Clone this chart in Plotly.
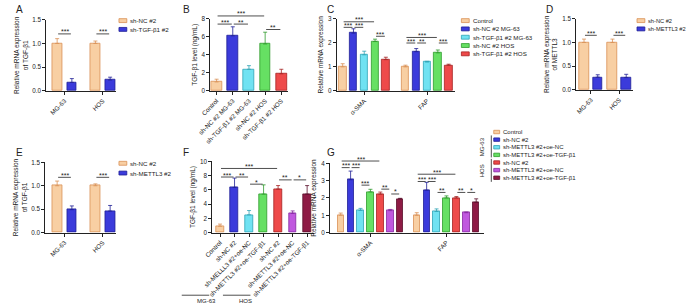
import plotly.graph_objects as go

W, H = 689, 307
FONT = "Liberation Sans, Arial, sans-serif"
TXT = "#222222"

# ---------------- data ----------------
# Panel A
A_groups = ["MG-63", "HOS"]
A_series = ["sh-NC #2", "sh-TGF-β1 #2"]
A_vals = [[1.00, 1.00], [0.18, 0.23]]          # per series, per group
A_err = [[0.10, 0.05], [0.08, 0.06]]

# Panel B
B_labels = ["Control", "sh-NC #2 MG-63", "sh-TGF-β1 #2 MG-63", "sh-NC #2 HOS", "sh-TGF-β1 #2 HOS"]
B_vals = [1.0, 6.1, 2.4, 5.2, 1.9]
B_err = [0.3, 1.0, 0.4, 1.3, 0.5]

# Panel C
C_groups = ["α-SMA", "FAP"]
C_series = ["Control", "sh-NC #2 MG-63", "sh-TGF-β1 #2 MG-63", "sh-NC #2 HOS", "sh-TGF-β1 #2 HOS"]
C_vals = [[1.0, 1.0], [2.40, 1.63], [1.50, 1.20], [2.05, 1.58], [1.30, 1.07]]
C_err = [[0.13, 0.07], [0.18, 0.13], [0.15, 0.03], [0.10, 0.12], [0.10, 0.04]]

# Panel D
D_groups = ["MG-63", "HOS"]
D_series = ["sh-NC #2", "sh-METTL3 #2"]
D_vals = [[1.00, 1.00], [0.27, 0.26]]
D_err = [[0.07, 0.07], [0.05, 0.07]]

# Panel E
E_groups = ["MG-63", "HOS"]
E_series = ["sh-NC #2", "sh-METTL3 #2"]
E_vals = [[1.00, 1.00], [0.49, 0.46]]
E_err = [[0.10, 0.04], [0.08, 0.12]]

# Panel F
F_labels = ["Control", "sh-NC #2", "sh-MELLL3 #2+oe-NC", "sh-METTL3 #2+oe-TGF-β1",
            "sh-NC #2", "sh-METTL3 #2+oe-NC", "sh-METTL3 #2+oe-TGF-β1"]
F_vals = [0.9, 6.35, 2.5, 5.4, 6.1, 2.7, 5.4]
F_err = [0.3, 1.3, 0.6, 1.3, 0.5, 0.35, 1.2]

# Panel G
G_groups = ["α-SMA", "FAP"]
G_series = ["Control", "sh-NC #2", "sh-METTL3 #2+oe-NC", "sh-METTL3 #2+oe-TGF-β1",
            "sh-NC #2", "sh-METTL3 #2+oe-NC", "sh-METTL3 #2+oe-TGF-β1"]
G_vals = [[1.0, 1.0], [3.05, 2.45], [1.28, 1.22], [2.35, 2.0], [2.22, 2.0], [1.27, 1.15], [1.95, 1.75]]
G_err = [[0.13, 0.15], [0.5, 0.45], [0.12, 0.15], [0.15, 0.12], [0.12, 0.08], [0.07, 0.04], [0.03, 0.2]]

# significance brackets: (bar i, bar j, height in data units, label)
A_sig = [(0, 1, 1.2, "***"), (2, 3, 1.2, "***")]
B_sig = [(0, 1, 7.4, "***"), (1, 2, 7.4, "**"), (0, 3, 8.3, "***"), (3, 4, 6.8, "**")]
C_sig = [(0, 1, 2.64, "***"), (1, 2, 2.64, "***"), (0, 3, 2.87, "***"), (3, 4, 2.27, "***"),
         (5, 6, 1.99, "***"), (6, 7, 1.99, "**"), (5, 8, 2.22, "***"), (8, 9, 1.99, "***")]
D_sig = [(0, 1, 1.15, "***"), (2, 3, 1.15, "***")]
E_sig = [(0, 1, 1.18, "***"), (2, 3, 1.18, "***")]
F_sig = [(0, 1, 7.8, "***"), (1, 2, 7.8, "**"), (2, 3, 6.8, "*"), (0, 4, 9.0, "***"),
         (4, 5, 7.4, "**"), (5, 6, 7.4, "*")]
G_sig = [(0, 1, 3.75, "***"), (1, 2, 3.75, "***"), (0, 4, 4.13, "***"), (2, 3, 2.74, "***"),
         (4, 5, 2.51, "**"), (5, 6, 2.23, "*"),
         (7, 8, 2.95, "***"), (8, 9, 2.95, "***"), (7, 11, 3.37, "***"), (9, 10, 2.32, "**"),
         (11, 12, 2.32, "**"), (12, 13, 2.32, "*")]

# ---------------- styles ----------------
PAL = {
    "peach": ("#F8CFA3", "#D99056"),
    "blue": ("#3B3BDB", "#1F1F95"),
    "cyan": ("#70E2F2", "#2EA3B5"),
    "green": ("#66E063", "#2F9A2C"),
    "red": ("#EE4A4A", "#A52222"),
    "purple": ("#C058DF", "#85289F"),
    "maroon": ("#8E1B45", "#5A0F2B"),
}
TWO = ["peach", "blue"]
FIVE = ["peach", "blue", "cyan", "green", "red"]
SEVEN = ["peach", "blue", "cyan", "green", "red", "purple", "maroon"]

TICK = 6.3
TITLE = 6.5
LEG = 6.2

fig = go.Figure()
shapes, annos = [], []
layout = {}


def py(y):
    return 1 - y / H


def px(x):
    return x / W


def add_panel(n, box, ymax, dtick, yfmt, ytitle, centers, vals, errs, cols, width,
              tickpos, ticktext, sig, standoff=3):
    x0, x1, yt, yb = box
    xa = "x" if n == 1 else f"x{n}"
    ya = "y" if n == 1 else f"y{n}"
    for c, v, e, col in zip(centers, vals, errs, cols):
        fill, edge = PAL[col]
        fig.add_trace(go.Bar(
            x=c, y=v, width=[width] * len(c), xaxis=xa, yaxis=ya, showlegend=False,
            marker=dict(color=fill, line=dict(color=edge, width=0.8)),
            error_y=dict(type="data", symmetric=False, array=e, arrayminus=[0] * len(e),
                         color=edge, thickness=0.8, width=2),
        ))
    layout["xaxis" if n == 1 else f"xaxis{n}"] = dict(
        domain=[px(x0), px(x1)], range=[0, x1 - x0], anchor=ya, showline=True,
        linecolor=TXT, linewidth=1, ticks="outside", ticklen=3, tickwidth=1, tickcolor=TXT,
        tickvals=tickpos, ticktext=ticktext, tickangle=-45,
        tickfont=dict(size=TICK, color=TXT, family=FONT), showgrid=False, zeroline=False)
    layout["yaxis" if n == 1 else f"yaxis{n}"] = dict(
        domain=[py(yb), py(yt)], range=[0, ymax], anchor=xa, showline=True,
        linecolor=TXT, linewidth=1, ticks="outside", ticklen=3, tickwidth=1, tickcolor=TXT,
        dtick=dtick, tickformat=yfmt, tickfont=dict(size=TICK, color=TXT, family=FONT),
        showgrid=False, zeroline=False,
        title=dict(text=ytitle, font=dict(size=TITLE, color=TXT, family=FONT), standoff=standoff))
    flat = []
    ng = len(centers[0])
    for g in range(ng):
        for s in range(len(centers)):
            flat.append(centers[s][g])
    for i, j, h, lab in sig:
        ypix = yb - h / ymax * (yb - yt)
        shapes.append(dict(type="line", xref=xa, yref="paper", x0=flat[i] + 1, x1=flat[j] - 1,
                           y0=py(ypix), y1=py(ypix), line=dict(color=TXT, width=0.8)))
        annos.append(dict(x=(flat[i] + flat[j]) / 2, y=py(ypix), xref=xa, yref="paper",
                          text=lab, showarrow=False, yanchor="bottom", yshift=-3.5,
                          font=dict(size=7, color=TXT, family=FONT)))


def grouped(first, step, gstep, nser, ngrp):
    return [[first + g * gstep + s * step for g in range(ngrp)] for s in range(nser)]


def single(first, step, n):
    return [[first + i * step] for i in range(n)]


def legend(x, y0, dy, labels, cols, sw=8, sh=4, size=LEG):
    for k, (lab, col) in enumerate(zip(labels, cols)):
        y = y0 + k * dy
        fill, edge = PAL[col]
        shapes.append(dict(type="rect", xref="paper", yref="paper", x0=px(x), x1=px(x + sw),
                           y0=py(y - sh / 2), y1=py(y + sh / 2), fillcolor=fill,
                           line=dict(color=edge, width=0.8)))
        annos.append(dict(x=px(x + sw + 1.5), y=py(y), xref="paper", yref="paper", text=lab,
                          showarrow=False, xanchor="left", yanchor="middle",
                          font=dict(size=size, color=TXT, family=FONT)))


# Panel A
g = grouped(11, 15, 39, 2, 2)
add_panel(1, (34, 105, 16, 89), 1.5, 0.5, ".1f", "Relative mRNA expression<br>of TGF-β1",
          g, A_vals, A_err, TWO, 10, [18.5, 57.5], A_groups, A_sig)
legend(108, 17, 9, A_series, TWO)

# Panel B
g = single(6.5, 16.5, 5)
add_panel(2, (201, 280, 15, 89), 8, 2, "d", "TGF-β1 level (ng/mL)",
          g, [[v] for v in B_vals], [[e] for e in B_err], FIVE, 11,
          [c[0] for c in g], B_labels, B_sig)

# Panel C
g = grouped(6, 11, 64, 5, 2)
add_panel(3, (330, 451, 15, 89), 3, 1, "d", "Relative mRNA expression",
          g, C_vals, C_err, FIVE, 7.5, [28, 92], C_groups, C_sig)
legend(457, 17, 8.5, C_series, FIVE)

# Panel D
g = grouped(8, 14, 29, 2, 2)
add_panel(4, (574, 632, 15, 88), 1.5, 0.5, ".1f", "Relative mRNA expression<br>of METTL3",
          g, D_vals, D_err, TWO, 10, [15, 44], D_groups, D_sig)
legend(636, 17, 8.5, D_series, TWO, sw=8, size=5.7)

# Panel E
g = grouped(12, 15, 39, 2, 2)
add_panel(5, (33, 105, 162, 234), 1.5, 0.5, ".1f", "Relative mRNA expression<br>of TGF-β1",
          g, E_vals, E_err, TWO, 10, [19.5, 58.5], E_groups, E_sig)
legend(108, 163, 10, E_series, TWO)

# Panel F
g = single(8, 14.8, 7)
add_panel(6, (203, 307, 161, 234), 10, 2, "d", "TGF-β1 level (ng/mL)",
          g, [[v] for v in F_vals], [[e] for e in F_err], SEVEN, 8,
          [c[0] for c in g], F_labels, F_sig)

# Panel G
g = grouped(11, 10.1, 77.5, 7, 2)
add_panel(7, (323, 480, 163, 234), 4, 1, "d", "Relative mRNA expression",
          g, G_vals, G_err, SEVEN, 6.5, [41.3, 118.8], G_groups, G_sig)
legend(490, 131, 7.8, G_series, SEVEN, sw=6, sh=3.5, size=6)

# G legend group brackets
for name, ya, yb_ in [("MG-63", 134.5, 157), ("HOS", 158.5, 182)]:
    shapes.append(dict(type="line", xref="paper", yref="paper", x0=px(487.5), x1=px(487.5),
                       y0=py(ya), y1=py(yb_), line=dict(color=TXT, width=0.8)))
    annos.append(dict(x=px(484), y=py((ya + yb_) / 2), xref="paper", yref="paper", text=name,
                      textangle=-90, showarrow=False, font=dict(size=6, color=TXT, family=FONT)))

# F group labels under tick labels
for name, xa, xb in [("MG-63", 172, 200), ("HOS", 214, 242)]:
    shapes.append(dict(type="line", xref="paper", yref="paper", x0=px(xa), x1=px(xb),
                       y0=py(298), y1=py(298), line=dict(color=TXT, width=0.8)))
    annos.append(dict(x=px((xa + xb) / 2), y=py(298), xref="paper", yref="paper", text=name,
                      showarrow=False, yanchor="top", yshift=-1,
                      font=dict(size=6, color=TXT, family=FONT)))

# panel letters
for lab, x, y in [("A", 1, 6), ("B", 171, 6), ("C", 318, 6), ("D", 541, 6),
                  ("E", 1, 152), ("F", 171, 152), ("G", 318, 152)]:
    annos.append(dict(x=px(x), y=py(y), xref="paper", yref="paper", text=lab, showarrow=False,
                      xanchor="left", yanchor="middle", font=dict(size=10, color=TXT, family=FONT)))

fig.update_layout(
    width=W, height=H, margin=dict(l=0, r=0, t=0, b=0), autosize=False,
    paper_bgcolor="white", plot_bgcolor="white", showlegend=False,
    bargap=0, shapes=shapes, annotations=annos,
    font=dict(family=FONT, size=7, color=TXT), **layout)

fig.write_html("out.html", config={"displayModeBar": False},
               post_script="document.body.style.margin='0px';")
